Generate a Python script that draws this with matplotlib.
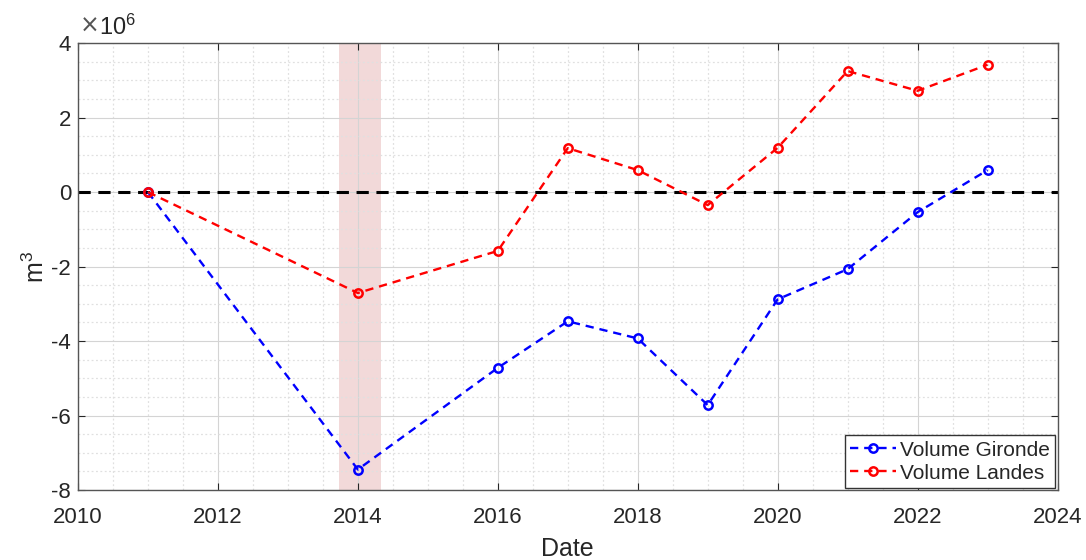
import matplotlib

matplotlib.use('Agg')
import matplotlib.pyplot as plt
from matplotlib.ticker import MultipleLocator, FuncFormatter

years = [2011, 2014, 2016, 2017, 2018, 2019, 2020, 2021, 2022, 2023]
vol_gironde = [0.0, -7.45e6, -4.72e6, -3.47e6, -3.93e6, -5.72e6, -2.88e6, -2.07e6, -0.54e6, 0.59e6]
vol_landes = [0.0, -2.71e6, -1.58e6, 1.18e6, 0.59e6, -0.35e6, 1.19e6, 3.25e6, 2.72e6, 3.42e6]
event_span = (2013.73, 2014.33)

plt.rcParams['font.family'] = ['Liberation Sans', 'DejaVu Sans']
plt.rcParams['axes.unicode_minus'] = False
plt.rcParams['mathtext.fontset'] = 'custom'
plt.rcParams['mathtext.rm'] = 'Liberation Sans'
plt.rcParams['mathtext.it'] = 'Liberation Sans:italic'
txt = '#262626'
edge = '#262626'

fig = plt.figure(figsize=(10.86, 5.6), dpi=100)
ax = fig.add_axes([0.0718, 0.125, 0.902, 0.798])

ax.axvspan(event_span[0], event_span[1], color='#f2d9d9', zorder=0, lw=0)
ax.axhline(0, color='k', ls=(0, (4, 2.5)), lw=2.2, zorder=2)

ax.plot(years, vol_gironde, ls=(0, (3.5, 2.5)), color='#0000ff', lw=1.7, marker='o', ms=6,
        mfc='none', mew=1.8, label='Volume Gironde', zorder=3)
ax.plot(years, vol_landes, ls=(0, (3.5, 2.5)), color='#ff0000', lw=1.7, marker='o', ms=6,
        mfc='none', mew=1.8, label='Volume Landes', zorder=3)

ax.set_xlim(2010, 2024)
ax.set_ylim(-8e6, 4e6)
ax.xaxis.set_major_locator(MultipleLocator(2))
ax.xaxis.set_minor_locator(MultipleLocator(0.5))
ax.yaxis.set_major_locator(MultipleLocator(2e6))
ax.yaxis.set_minor_locator(MultipleLocator(0.5e6))
ax.yaxis.set_major_formatter(FuncFormatter(lambda v, p: f'{v / 1e6:g}'))

# exponent label, MATLAB style
ax.text(0.002, 1.012, '\u00d7', transform=ax.transAxes, fontsize=17,
        family='DejaVu Sans', color='#555555', ha='left', va='bottom')
ax.text(0.021, 1.008, '10$^{6}$', transform=ax.transAxes, fontsize=17,
        color=txt, ha='left', va='bottom')

ax.grid(which='major', color='#d4d4d4', lw=0.8, ls='-')
ax.grid(which='minor', color='#e0e0e0', lw=0.9, ls=(0, (1.5, 2)))
ax.set_axisbelow(True)

ax.tick_params(which='both', direction='in', top=True, right=True, colors=edge,
               labelcolor=txt, labelsize=16)
ax.tick_params(which='major', length=5)
ax.tick_params(axis='x', which='major', pad=12)
ax.tick_params(axis='y', which='major', pad=5)
ax.tick_params(which='minor', length=0)
for s in ax.spines.values():
    s.set_color('#555555')
    s.set_linewidth(1.0)

ax.set_xlabel('Date', fontsize=18, color=txt, labelpad=7)
ax.set_ylabel('m$^3$', fontsize=18, color=txt, labelpad=2)

leg = ax.legend(loc='lower right', fontsize=15, frameon=True, fancybox=False,
                edgecolor='#333333', framealpha=1, borderaxespad=0.1,
                handlelength=2.2, handletextpad=0.2, borderpad=0.25, labelspacing=0.2)
leg.get_frame().set_linewidth(1.0)
for t in leg.get_texts():
    t.set_color(txt)

fig.savefig('out.png', dpi=100)
